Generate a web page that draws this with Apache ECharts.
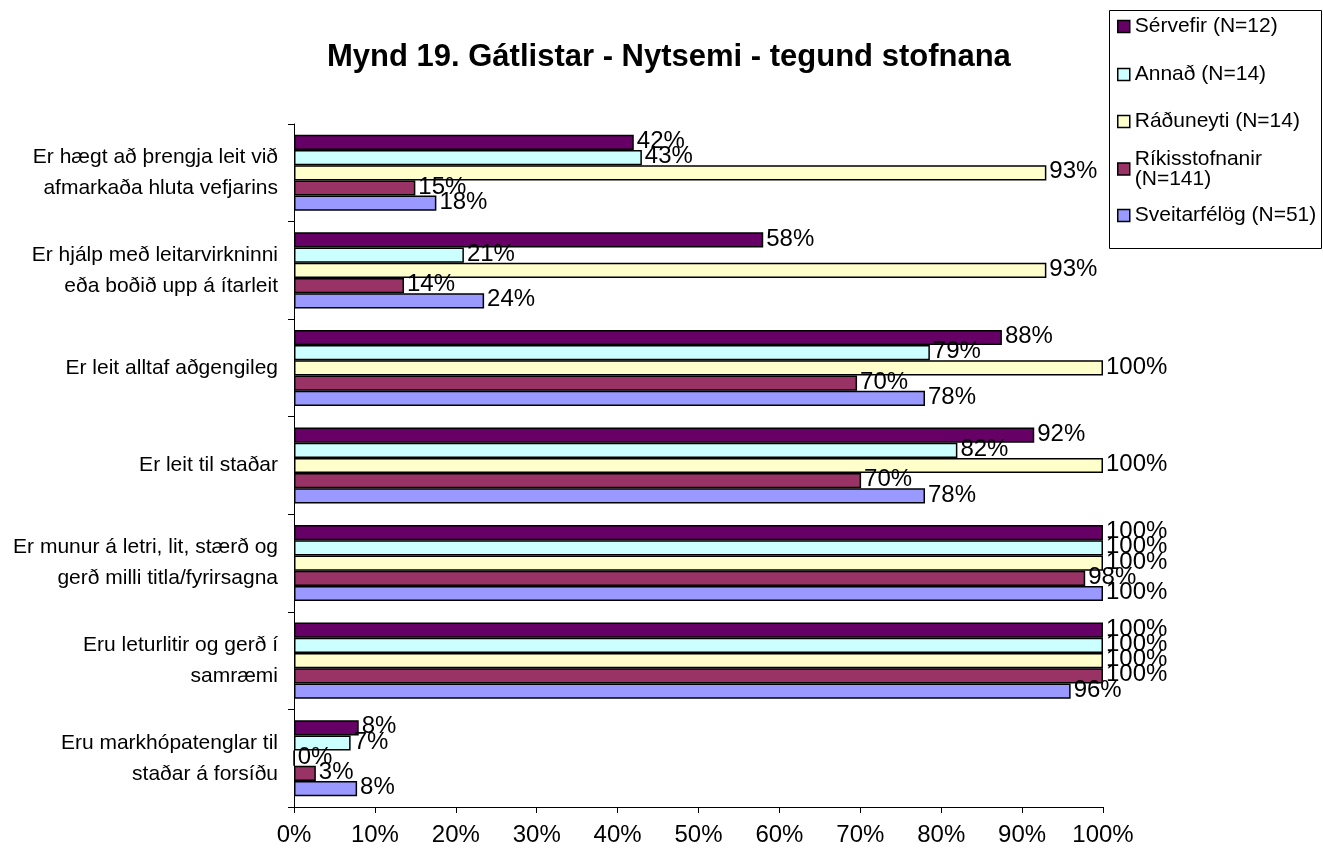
<!DOCTYPE html>
<html>
<head>
<meta charset="utf-8">
<script src="https://cdn.jsdelivr.net/npm/echarts@6/dist/echarts.min.js"></script>
<style>
html, body { margin: 0; padding: 0; background: #fff; }
#main { width: 1323px; height: 854px; }
</style>
</head>
<body>
<div id="main"></div>
<script>
// flokkar (efst til neðst)
var categories = [
    'Er hægt að þrengja leit við\nafmarkaða hluta vefjarins',
    'Er hjálp með leitarvirkninni\neða boðið upp á ítarleit',
    'Er leit alltaf aðgengileg',
    'Er leit til staðar',
    'Er munur á letri, lit, stærð og\ngerð milli titla/fyrirsagna',
    'Eru leturlitir og gerð í\nsamræmi',
    'Eru markhópatenglar til\nstaðar á forsíðu'
];
var seriesNames = ['Sérvefir (N=12)', 'Annað (N=14)', 'Ráðuneyti (N=14)', 'Ríkisstofnanir (N=141)', 'Sveitarfélög (N=51)'];
var colors = ['#660066', '#CCFFFF', '#FFFFCC', '#993366', '#9999FF'];

// hlutföll í %
var servefir   = [42, 58, 87.5, 91.5, 100, 100, 8];
var annad      = [43, 21, 78.6, 82, 100, 100, 7];
var raduneyti  = [93, 93, 100, 100, 100, 100, 0];
var rikis      = [15, 13.6, 69.6, 70.1, 97.8, 100, 2.7];
var sveitarfel = [17.6, 23.5, 78, 78, 100, 96, 7.8];
var values = [servefir, annad, raduneyti, rikis, sveitarfel];

var xTicks = [0, 10, 20, 30, 40, 50, 60, 70, 80, 90, 100];

var font = 'Liberation Sans, Arial, sans-serif';
var chart = echarts.init(document.getElementById('main'));

var legendTops = [28, 76, 123, 170, 217];
var legends = seriesNames.map(function (name, i) {
    var isTwoLine = i === 3;
    return {
        data: [name],
        left: 1117,
        top: legendTops[i] - (isTwoLine ? 31 : 12),
        orient: 'vertical',
        padding: 0,
        itemWidth: 12,
        itemHeight: 12,
        itemGap: 0,
        icon: 'rect',
        selectedMode: false,
        itemStyle: { borderColor: '#000', borderWidth: 1.5 },
        formatter: isTwoLine ? function () { return 'Ríkisstofnanir\n(N=141)'; } : '{name}',
        textStyle: {
            fontFamily: font,
            fontSize: 21,
            color: '#000',
            lineHeight: 20,
            padding: isTwoLine ? [20, 0, 0, 0] : 0
        }
    };
});

var series = values.map(function (arr, i) {
    return {
        name: seriesNames[i],
        type: 'bar',
        data: arr,
        barGap: '0%',
        barCategoryGap: '22%',
        itemStyle: { color: colors[i], borderColor: '#000', borderWidth: 1.5 },
        label: {
            show: true,
            position: 'right',
            distance: 3,
            offset: [0, -1],
            fontFamily: font,
            fontSize: 24,
            color: '#000',
            formatter: function (p) { return Math.round(p.value) + '%'; }
        },
        emphasis: { disabled: true },
        animation: false
    };
});

var option = {
    backgroundColor: '#fff',
    animation: false,
    title: {
        text: 'Mynd 19. Gátlistar - Nytsemi - tegund stofnana',
        left: 322,
        top: 37,
        textStyle: { fontFamily: font, fontSize: 31, fontWeight: 'bold', color: '#000' }
    },
    legend: legends,
    graphic: [{
        type: 'rect',
        shape: { x: 1109.5, y: 10.5, width: 212, height: 238 },
        style: { fill: 'none', stroke: '#000', lineWidth: 1 },
        z: 0
    }],
    grid: { left: 294, right: 220, top: 124, bottom: 47, containLabel: false },
    xAxis: {
        type: 'value',
        min: xTicks[0],
        max: xTicks[xTicks.length - 1],
        interval: xTicks[1] - xTicks[0],
        splitLine: { show: false },
        axisLine: { show: true, lineStyle: { color: '#000', width: 1 } },
        axisTick: { show: true, length: 6, lineStyle: { color: '#000' } },
        axisLabel: {
            margin: 16,
            fontFamily: font,
            fontSize: 24,
            color: '#000',
            formatter: '{value}%'
        }
    },
    yAxis: {
        type: 'category',
        inverse: true,
        data: categories,
        axisLine: { show: true, lineStyle: { color: '#000', width: 1 } },
        axisTick: { show: true, length: 6, lineStyle: { color: '#000' } },
        axisLabel: {
            margin: 16,
            fontFamily: font,
            fontSize: 21,
            lineHeight: 31,
            color: '#000',
            align: 'right'
        }
    },
    series: series
};
chart.setOption(option);
</script>
</body>
</html>
